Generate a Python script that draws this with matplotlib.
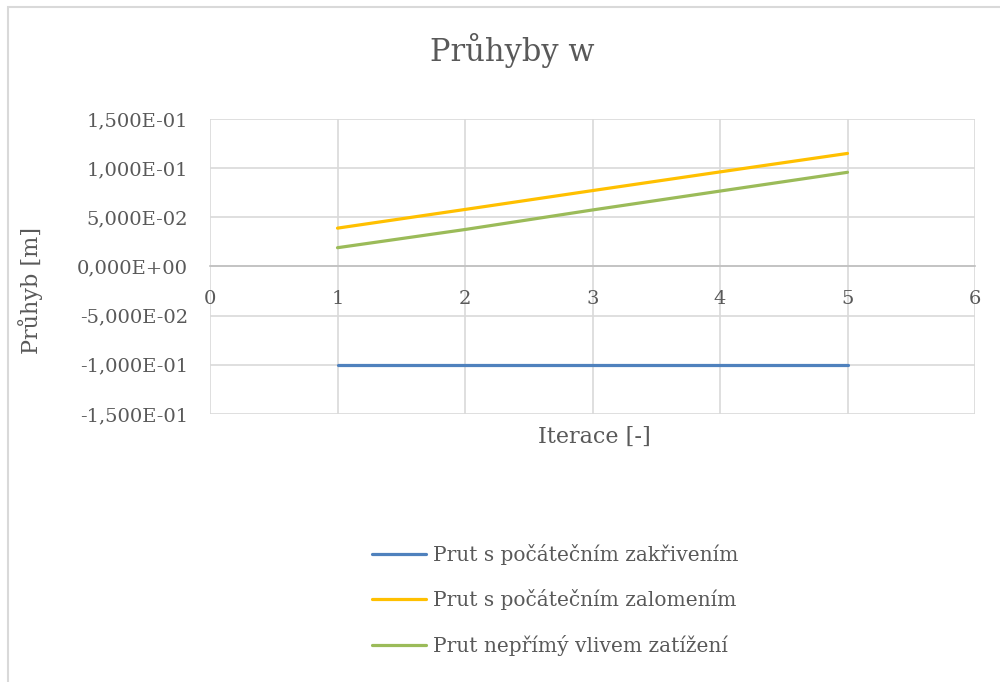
import matplotlib.pyplot as plt
from matplotlib.ticker import FuncFormatter, MultipleLocator
from matplotlib.patches import Rectangle

plt.rcParams['font.family'] = ['DejaVu Serif']

# data
iterace = [1, 2, 3, 4, 5]
zakriveni = [-0.1, -0.1, -0.1, -0.1, -0.1]
zalomeni = [0.0390, 0.0580, 0.0772, 0.0962, 0.1150]
neprimy = [0.0191, 0.0376, 0.0575, 0.0767, 0.0958]

labels = ["Prut s počátečním zakřivením",
          "Prut s počátečním zalomením",
          "Prut nepřímý vlivem zatížení"]
colors = ["#4f81bd", "#ffc000", "#9bbb59"]

text_col = "#595959"
grid_col = "#d9d9d9"

fig = plt.figure(figsize=(10, 6.82), dpi=100)
ax = fig.add_axes([0.21, 0.393, 0.765, 0.4325])

for ys, lab, c in zip([zakriveni, zalomeni, neprimy], labels, colors):
    ax.plot(iterace, ys, color=c, lw=2.3, label=lab, solid_capstyle='round')

ax.set_xlim(0, 6)
ax.set_ylim(-0.15, 0.15)
ax.xaxis.set_major_locator(MultipleLocator(1))
ax.yaxis.set_major_locator(MultipleLocator(0.05))
ax.yaxis.set_major_formatter(FuncFormatter(lambda v, p: f"{v:.3E}".replace('.', ',')))
ax.grid(True, color=grid_col, lw=1.2)
ax.set_axisbelow(True)

for s in ['top', 'right', 'left']:
    ax.spines[s].set_visible(False)
ax.spines['bottom'].set_position(('data', 0))
ax.spines['bottom'].set_color("#bfbfbf")
ax.spines['bottom'].set_linewidth(1.2)

ax.tick_params(axis='both', length=0, colors=text_col, labelsize=14)
ax.tick_params(axis='x', pad=17)
ax.tick_params(axis='y', pad=16)

fig.text(0.512, 1 - 50 / 682, "Průhyby w", fontsize=22, color=text_col,
         ha='center', va='center')
fig.text(0.031, 1 - 290 / 682, "Průhyb [m]", fontsize=16, color=text_col,
         ha='center', va='center', rotation=90)
fig.text(0.594, 1 - 437 / 682, "Iterace [-]", fontsize=16, color=text_col,
         ha='center', va='center')

leg = fig.legend(loc='center', bbox_to_anchor=(0.555, 1 - 600 / 682), frameon=False,
                 fontsize=14.5, handlelength=2.7, labelspacing=1.2, handletextpad=0.35)
for t in leg.get_texts():
    t.set_color(text_col)

fig.patches.append(Rectangle((0.008, -0.01), 1.0, 1.0 - 0.0003, transform=fig.transFigure,
                             fill=False, edgecolor="#d9d9d9", lw=1.5))

fig.savefig("out.png", dpi=100)
